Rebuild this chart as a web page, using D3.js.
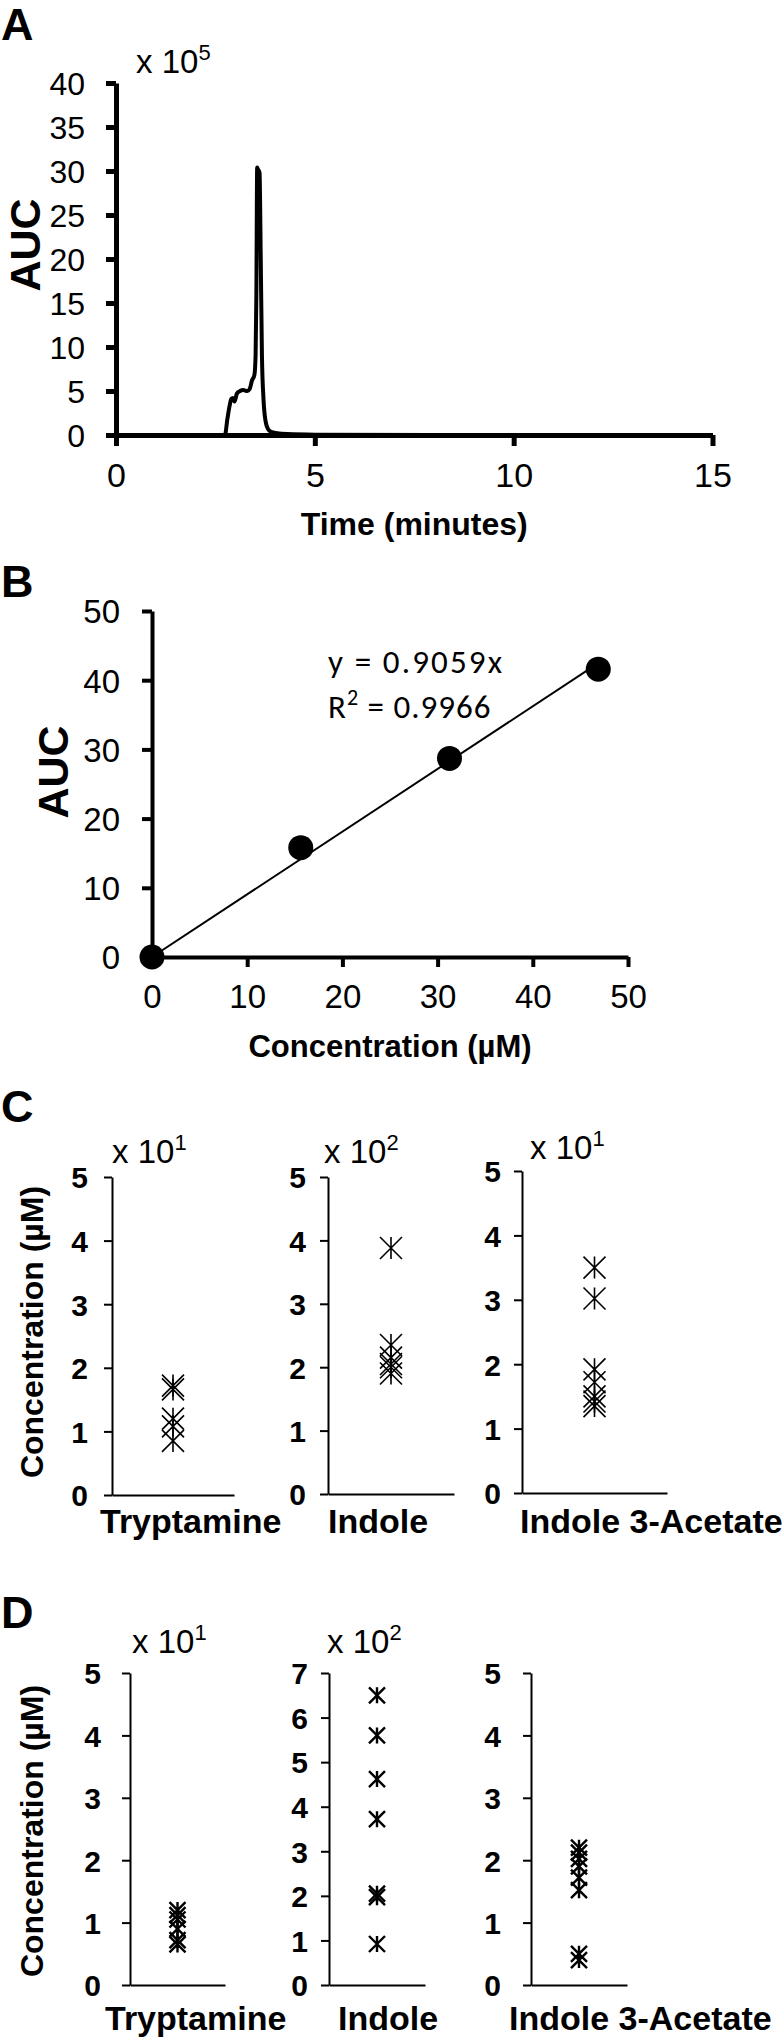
<!DOCTYPE html>
<html>
<head>
<meta charset="utf-8">
<script src="https://cdnjs.cloudflare.com/ajax/libs/d3/7.8.5/d3.min.js"></script>
<style>
  body { margin: 0; background: #fff; }
  svg text { font-family: "Liberation Sans", Arial, sans-serif; fill: #000; }
</style>
</head>
<body>
<div id="chart-area"></div>
<script>
// panel A - chromatogram trace
var timeA = [0, 2.74, 2.8, 2.86, 2.9, 2.94, 2.98, 3.04, 3.12, 3.2, 3.3, 3.36, 3.42, 3.48, 3.51, 3.53, 3.55, 3.57, 3.61, 3.64, 3.67, 3.71, 3.76, 3.82, 3.9, 4.05, 4.3, 5, 8, 15]
var aucA = [0, 0, 1.8, 3.4, 4.1, 4.2, 3.8, 4.7, 5.0, 5.1, 5.0, 5.2, 6.2, 6.8, 9, 16, 30.4, 30.2, 29.8, 20, 9, 4, 1.6, 0.7, 0.35, 0.2, 0.1, 0.04, 0, 0]
var ticksAx = [0, 5, 10, 15]
var ticksAy = [0, 5, 10, 15, 20, 25, 30, 35, 40]

// panel B - standard curve
var concB = [0, 15.625, 31.25, 46.875]
var aucB = [0, 15.8, 28.7, 41.6]
var slopeB = 0.9059
var ticksB = [0, 10, 20, 30, 40, 50]

// panel C & D - measured concentrations
var compounds = ["Tryptamine", "Indole", "Indole 3-Acetate"]
var powC = [1, 2, 1]
var valsC = [
    [1.72, 1.66, 1.2, 1.08, 0.85],
    [3.88, 2.35, 2.15, 2.05, 2.0, 1.9],
    [3.5, 3.02, 1.92, 1.72, 1.5, 1.42, 1.35]
]
var maxC = [5, 5, 5]
var powD = [1, 2, null]
var valsD = [
    [1.2, 1.12, 1.05, 0.9, 0.72, 0.65],
    [6.5, 5.6, 4.62, 3.72, 2.05, 1.97, 0.92],
    [2.2, 2.12, 2.02, 1.9, 1.72, 1.52, 0.5, 0.4]
]
var maxD = [5, 7, 5]

var svg = d3.select("#chart-area").append("svg")
    .attr("width", 782)
    .attr("height", 2040)

function panelLetter(t, x, y) {
    svg.append("text")
        .attr("x", x).attr("y", y)
        .attr("font-size", "45px")
        .attr("font-weight", "bold")
        .text(t)
}

function multiplier(g, x, y, p) {
    var t = g.append("text")
        .attr("x", x).attr("y", y)
        .attr("font-size", "33px")
    t.append("tspan").text("x 10")
    t.append("tspan").attr("font-size", "22px").attr("dy", -13).text(p)
}

function styleAxis(sel, w) {
    sel.select(".domain").attr("stroke-width", w)
    sel.selectAll(".tick line").attr("stroke-width", w)
    sel.selectAll("text").attr("fill", "#000")
}

// ---------- A ----------
panelLetter("A", 1, 40)

var xA = d3.scaleLinear().domain([0, 15]).range([116, 712.5])
var yA = d3.scaleLinear().domain([0, 40]).range([435, 83])

multiplier(svg, 136, 73, "5")

svg.append("g")
    .attr("transform", "translate(" + xA(0) + ",0)")
    .call(d3.axisLeft(yA).tickValues(ticksAy).tickSize(10).tickSizeOuter(0).tickPadding(21))
    .call(s => styleAxis(s, 5))
    .selectAll("text")
    .attr("font-size", "32px")
    .attr("dy", "0.36em")

svg.append("g")
    .attr("transform", "translate(0," + yA(0) + ")")
    .call(d3.axisBottom(xA).tickValues(ticksAx).tickSize(11).tickSizeOuter(0).tickPadding(17))
    .call(s => styleAxis(s, 5))
    .selectAll("text")
    .attr("font-size", "34px")

var lineA = d3.line()
    .x((d, i) => xA(timeA[i]))
    .y(d => yA(d))
    .curve(d3.curveMonotoneX)

svg.append("path")
    .datum(aucA)
    .attr("d", lineA)
    .attr("fill", "none")
    .attr("stroke", "#000")
    .attr("stroke-width", 4)
    .attr("stroke-linejoin", "round")

svg.append("text")
    .attr("x", (xA(0) + xA(15)) / 2)
    .attr("y", 535)
    .attr("text-anchor", "middle")
    .attr("font-size", "32px")
    .attr("font-weight", "bold")
    .text("Time (minutes)")

svg.append("text")
    .attr("transform", "translate(40,245) rotate(-90)")
    .attr("text-anchor", "middle")
    .attr("font-size", "43px")
    .attr("font-weight", "bold")
    .text("AUC")

// ---------- B ----------
panelLetter("B", 1, 597)

var xB = d3.scaleLinear().domain([0, 50]).range([152, 628])
var yB = d3.scaleLinear().domain([0, 50]).range([957, 611])

svg.append("g")
    .attr("transform", "translate(" + xB(0) + ",0)")
    .call(d3.axisLeft(yB).tickValues(ticksB).tickSize(10).tickSizeOuter(0).tickPadding(22))
    .call(s => styleAxis(s, 4))
    .selectAll("text")
    .attr("font-size", "33px")
    .attr("dy", "0.36em")

svg.append("g")
    .attr("transform", "translate(0," + yB(0) + ")")
    .call(d3.axisBottom(xB).tickValues(ticksB).tickSize(10).tickSizeOuter(0).tickPadding(18))
    .call(s => styleAxis(s, 4))
    .selectAll("text")
    .attr("font-size", "33px")

svg.append("line")
    .attr("x1", xB(0)).attr("y1", yB(0))
    .attr("x2", xB(d3.max(concB))).attr("y2", yB(slopeB * d3.max(concB)))
    .attr("stroke", "#000")
    .attr("stroke-width", 2)

svg.selectAll("circle.pt")
    .data(concB).enter().append("circle")
    .attr("class", "pt")
    .attr("cx", d => xB(d))
    .attr("cy", (d, i) => yB(aucB[i]))
    .attr("r", 12.5)
    .attr("fill", "#000")

var eq = svg.append("g")
eq.append("text")
    .attr("x", 328).attr("y", 673)
    .attr("font-size", "33px")
    .attr("textLength", 174)
    .attr("lengthAdjust", "spacing")
    .style("font-family", "Carlito, Lato, sans-serif")
    .text("y = 0.9059x")
var r2 = eq.append("text")
    .attr("x", 328).attr("y", 718)
    .attr("font-size", "33px")
    .style("font-family", "Carlito, Lato, sans-serif")
    .style("letter-spacing", "1px")
r2.append("tspan").text("R")
r2.append("tspan").attr("font-size", "22px").attr("dy", -13).text("2")
r2.append("tspan").attr("dy", 13).text(" = 0.9966")

svg.append("text")
    .attr("x", (xB(0) + xB(50)) / 2)
    .attr("y", 1057)
    .attr("text-anchor", "middle")
    .attr("font-size", "31px")
    .attr("font-weight", "bold")
    .text("Concentration (\u00b5M)")

svg.append("text")
    .attr("transform", "translate(68,772) rotate(-90)")
    .attr("text-anchor", "middle")
    .attr("font-size", "43px")
    .attr("font-weight", "bold")
    .text("AUC")

// ---------- C & D strip plots ----------
function asterisk(s) {
    return "M" + (-s) + "," + (-s) + "L" + s + "," + s +
        "M" + (-s) + "," + s + "L" + s + "," + (-s) +
        "M0," + (-s) + "L0," + s
}

function strip(o) {
    var g = svg.append("g")
    var x = d3.scaleLinear().domain([0, 1]).range([o.x0, o.x1])
    var y = d3.scaleLinear().domain([0, o.max]).range([o.y0, o.y1])

    g.append("g")
        .attr("transform", "translate(" + o.x0 + ",0)")
        .call(d3.axisLeft(y).ticks(o.max).tickFormat(d3.format("d")).tickSize(8).tickSizeOuter(0).tickPadding(o.pad))
        .call(s => styleAxis(s, 2))
        .selectAll("text")
        .attr("font-size", "30px")
        .attr("font-weight", "bold")
        .attr("dy", "0.36em")

    g.append("g")
        .attr("transform", "translate(0," + o.y0 + ")")
        .call(d3.axisBottom(x).tickValues([]).tickSizeOuter(0))
        .call(s => styleAxis(s, 2))

    g.selectAll("path.mk")
        .data(o.vals).enter().append("path")
        .attr("class", "mk")
        .attr("transform", d => "translate(" + x(0.5) + "," + y(d) + ")")
        .attr("d", asterisk(o.ms))
        .attr("fill", "none")
        .attr("stroke", "#000")
        .attr("stroke-width", o.sw)

    if (o.pow != null) multiplier(g, o.mx, o.my, o.pow)

    g.append("text")
        .attr("x", o.lx).attr("y", o.ly)
        .attr("font-size", "34px")
        .attr("font-weight", "bold")
        .text(o.name)
}

function yLabel(cy) {
    svg.append("text")
        .attr("transform", "translate(43," + cy + ") rotate(-90)")
        .attr("text-anchor", "middle")
        .attr("font-size", "32px")
        .attr("font-weight", "bold")
        .text("Concentration (\u00b5M)")
}

// C
panelLetter("C", 1, 1122)
yLabel(1332)
var layC = [
    {x0: 112, x1: 234, y0: 1495, y1: 1177, pad: 16, mx: 112, my: 1163, lx: 100},
    {x0: 328, x1: 454, y0: 1494, y1: 1177, pad: 14, mx: 324, my: 1163, lx: 328},
    {x0: 522, x1: 667, y0: 1493, y1: 1171, pad: 13, mx: 530, my: 1159, lx: 520}
]
layC.forEach((l, i) => {
    strip(Object.assign({}, l, {
        max: maxC[i], vals: valsC[i], pow: powC[i], name: compounds[i],
        ly: 1533, ms: 11, sw: 1.6
    }))
})

// D
panelLetter("D", 1, 1628)
yLabel(1831)
var layD = [
    {x0: 130, x1: 225, pad: 21, mx: 132, lx: 105},
    {x0: 329, x1: 425, pad: 13, mx: 327, lx: 338},
    {x0: 531, x1: 627, pad: 22, mx: 0, lx: 509}
]
layD.forEach((l, i) => {
    strip(Object.assign({}, l, {
        y0: 1985, y1: 1673, my: 1653,
        max: maxD[i], vals: valsD[i], pow: powD[i], name: compounds[i],
        ly: 2030, ms: 8, sw: 2.4
    }))
})
</script>
</body>
</html>
